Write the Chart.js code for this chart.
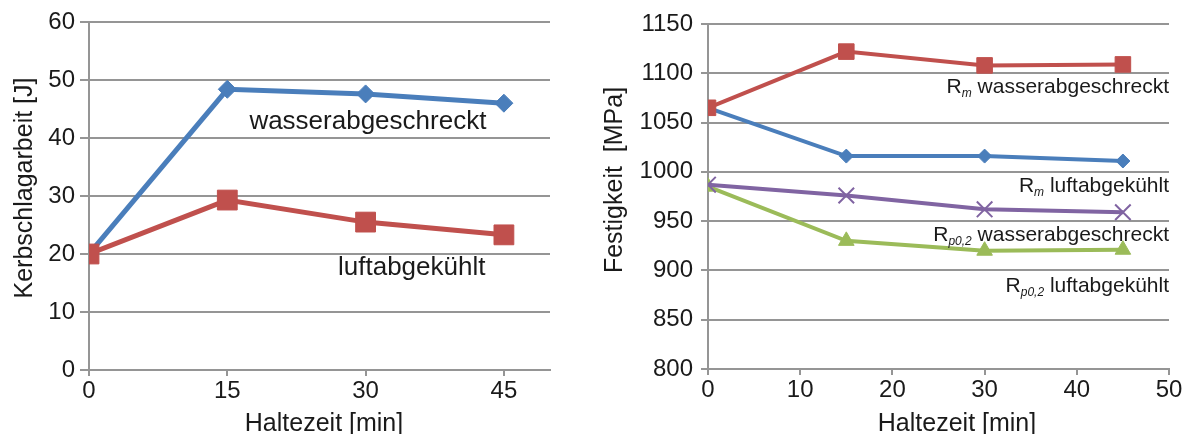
<!DOCTYPE html>
<html lang="de">
<head>
<meta charset="utf-8">
<title>Kerbschlagarbeit und Festigkeit über der Haltezeit</title>
<script src="https://cdn.jsdelivr.net/npm/chart.js@4"></script>
<style>
  html, body { margin: 0; padding: 0; background: #ffffff; }
  #wrap { position: relative; width: 1189px; height: 434px; overflow: hidden; }
  #kerb { position: absolute; left: 0; top: 0; }
  #fest { position: absolute; left: 580px; top: 0; }
</style>
</head>
<body>
<div id="wrap">
  <canvas id="kerb" width="575" height="434"></canvas>
  <canvas id="fest" width="609" height="434"></canvas>
</div>
<script>
// ---- Kerbschlagarbeit (links) ----
const haltezeitKerb = [0, 15, 30, 45];
const kerbWasser = [20, 48.4, 47.6, 46.0];
const kerbLuft = [20, 29.3, 25.5, 23.3];
const kerbXTicks = [0, 15, 30, 45];
const kerbYTicks = [0, 10, 20, 30, 40, 50, 60];

// ---- Festigkeit (rechts) ----
const haltezeitFest = [0, 15, 30, 45];
const rmWasser = [1065, 1122, 1108, 1109];
const rmLuft = [1065, 1016, 1016, 1011];
const rpWasser = [987, 976, 962, 959];
const rpLuft = [985, 930, 920, 921];
const festXTicks = [0, 10, 20, 30, 40, 50];
const festYTicks = [800, 850, 900, 950, 1000, 1050, 1100, 1150];

const FONT = '"Liberation Sans", Arial, Helvetica, sans-serif';
const TEXT = '#1a1a1a';
const GRID = '#959595';
const BLUE = '#4a7ebb';
const RED = '#c0504d';
const GREEN = '#9bbb59';
const PURPLE = '#8064a2';

const pts = (xs, ys) => xs.map((x, i) => ({ x, y: ys[i] }));
const fixedTicks = list => scale => { scale.ticks = list.map(v => ({ value: v })); };
const plainNumber = v => String(v);

// draws axis captions and in-plot series labels (with optional italic subscripts)
const captionPlugin = {
  id: 'captions',
  afterDraw(chart, args, opts) {
    const ctx = chart.ctx;
    const xs = chart.scales.x, ys = chart.scales.y;
    ctx.save();
    ctx.fillStyle = TEXT;
    // x caption
    ctx.font = `${opts.titleSize}px ${FONT}`;
    ctx.textAlign = 'center';
    ctx.textBaseline = 'alphabetic';
    ctx.fillText(opts.xTitle, opts.xTitlePos[0], opts.xTitlePos[1]);
    // y caption
    ctx.save();
    ctx.translate(opts.yTitlePos[0], opts.yTitlePos[1]);
    ctx.rotate(-Math.PI / 2);
    ctx.fillText(opts.yTitle, 0, 0);
    ctx.restore();
    // series labels, right aligned at an anchor in data space
    for (const lab of opts.labels) {
      const right = xs.getPixelForValue(lab.x);
      const base = ys.getPixelForValue(lab.y);
      const parts = lab.parts.map(p => {
        const f = p.sub ? `italic ${opts.subSize}px ${FONT}` : `${opts.labelSize}px ${FONT}`;
        ctx.font = f;
        return { t: p.t, f, sub: !!p.sub, w: ctx.measureText(p.t).width };
      });
      let x = right - parts.reduce((s, p) => s + p.w, 0);
      ctx.textAlign = 'left';
      for (const p of parts) {
        ctx.font = p.f;
        ctx.fillText(p.t, x, base + (p.sub ? opts.subDrop : 0));
        x += p.w;
      }
    }
    ctx.restore();
  }
};

function axisX(min, max, list, height, tickLen) {
  return {
    type: 'linear', min, max,
    afterBuildTicks: fixedTicks(list),
    afterFit: s => { s.height = height; },
    grid: { drawOnChartArea: false, drawTicks: true, tickLength: tickLen, color: GRID, lineWidth: 2 },
    border: { color: GRID, width: 2 },
    ticks: { color: TEXT, font: { family: FONT, size: 24 }, padding: 1, maxRotation: 0, autoSkip: false, callback: plainNumber }
  };
}
function axisY(min, max, list, width, tickLen, pad) {
  return {
    type: 'linear', min, max,
    afterBuildTicks: fixedTicks(list),
    afterFit: s => { s.width = width; },
    grid: { drawOnChartArea: true, drawTicks: true, tickLength: tickLen, color: GRID, lineWidth: 2 },
    border: { color: GRID, width: 2 },
    ticks: { color: TEXT, font: { family: FONT, size: 24 }, padding: pad, autoSkip: false, callback: plainNumber }
  };
}
function series(data, color, style, radius, width) {
  return {
    data, borderColor: color, backgroundColor: color, borderWidth: width,
    pointStyle: style, pointRadius: radius, pointHoverRadius: radius,
    pointBorderColor: color, pointBackgroundColor: color, pointBorderWidth: style === 'crossRot' ? 2 : 1,
    tension: 0, fill: false
  };
}
const common = {
  responsive: false, animation: false, devicePixelRatio: 1,
  plugins: { legend: { display: false }, tooltip: { enabled: false } }
};

new Chart(document.getElementById('kerb'), {
  type: 'line',
  data: {
    datasets: [
      series(pts(haltezeitKerb, kerbLuft), RED, 'rect', 14, 5),
      series(pts(haltezeitKerb, kerbWasser), BLUE, 'rectRot', 9, 5)
    ]
  },
  options: {
    ...common,
    layout: { padding: { left: 0, right: 25, top: 22, bottom: 0 } },
    scales: { x: axisX(0, 50, kerbXTicks, 64, 6), y: axisY(0, 60, kerbYTicks, 89, 9, 5) },
    plugins: {
      ...common.plugins,
      captions: {
        xTitle: 'Haltezeit [min]', xTitlePos: [324, 431],
        yTitle: 'Kerbschlagarbeit [J]', yTitlePos: [32, 188],
        titleSize: 25, labelSize: 26, subSize: 12, subDrop: 4,
        labels: [
          { x: 43.1, y: 41.6, parts: [{ t: 'wasserabgeschreckt' }] },
          { x: 43.0, y: 16.4, parts: [{ t: 'luftabgekühlt' }] }
        ]
      }
    }
  },
  plugins: [captionPlugin]
});

new Chart(document.getElementById('fest'), {
  type: 'line',
  data: {
    datasets: [
      series(pts(haltezeitFest, rmWasser), RED, 'rect', 11, 4),
      series(pts(haltezeitFest, rmLuft), BLUE, 'rectRot', 7, 4),
      series(pts(haltezeitFest, rpWasser), PURPLE, 'crossRot', 11, 4),
      series(pts(haltezeitFest, rpLuft), GREEN, 'triangle', 9, 4)
    ]
  },
  options: {
    ...common,
    layout: { padding: { left: 0, right: 20, top: 24, bottom: 0 } },
    scales: { x: axisX(0, 50, festXTicks, 65, 6), y: axisY(800, 1150, festYTicks, 128, 7, 8) },
    plugins: {
      ...common.plugins,
      captions: {
        xTitle: 'Haltezeit [min]', xTitlePos: [377, 431],
        yTitle: 'Festigkeit  [MPa]', yTitlePos: [42, 180],
        titleSize: 25, labelSize: 21, subSize: 12, subDrop: 4,
        labels: [
          { x: 50, y: 1080, parts: [{ t: 'R' }, { t: 'm', sub: true }, { t: ' wasserabgeschreckt' }] },
          { x: 50, y: 979.5, parts: [{ t: 'R' }, { t: 'm', sub: true }, { t: ' luftabgekühlt' }] },
          { x: 50, y: 930, parts: [{ t: 'R' }, { t: 'p0,2', sub: true }, { t: ' wasserabgeschreckt' }] },
          { x: 50, y: 878, parts: [{ t: 'R' }, { t: 'p0,2', sub: true }, { t: ' luftabgekühlt' }] }
        ]
      }
    }
  },
  plugins: [captionPlugin]
});
</script>
</body>
</html>
